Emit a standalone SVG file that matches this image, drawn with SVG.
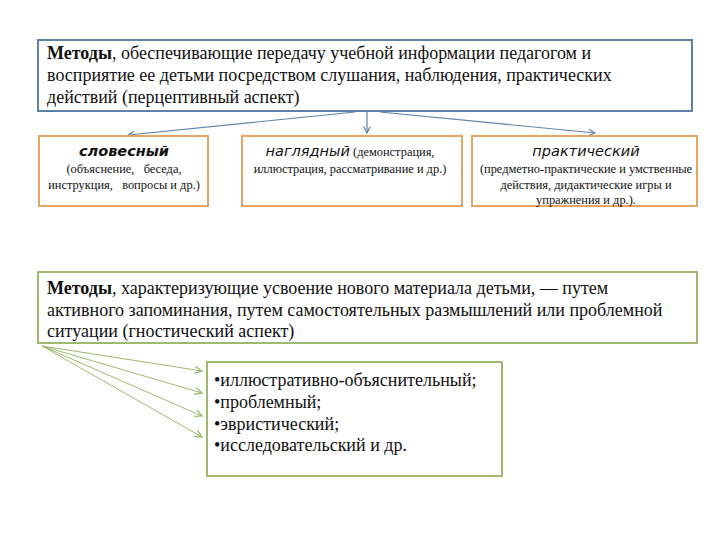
<svg xmlns="http://www.w3.org/2000/svg" width="720" height="540" viewBox="0 0 720 540">
<defs>
<style>
.bx{fill:#fff;stroke-width:2}
.blue{stroke:#5d82a8}
.or{stroke:#e6a565}
.gr{stroke:#a3b86f}
.t{font-family:"Liberation Serif",serif;font-size:18px;fill:#111}
.s{font-family:"Liberation Serif",serif;font-size:12.4px;fill:#111}
.h{font-family:"DejaVu Sans","Liberation Sans",sans-serif;font-size:14.5px;font-style:italic;fill:#111}
.cb{fill:none;stroke:#5d82a8;stroke-width:1.2}
.cg{fill:none;stroke:#a3b86f;stroke-width:1}
</style>
<marker id="ab" viewBox="0 0 10 10" refX="9" refY="5" markerWidth="8" markerHeight="8" orient="auto" markerUnits="userSpaceOnUse"><path d="M1,1 L9,5 L1,9" fill="none" stroke="#5d82a8" stroke-width="1.5"/></marker>
<marker id="ag" viewBox="0 0 10 10" refX="9" refY="5" markerWidth="9" markerHeight="9" orient="auto" markerUnits="userSpaceOnUse"><path d="M1,1 L9,5 L1,9" fill="none" stroke="#a3b86f" stroke-width="1.5"/></marker>
</defs>
<rect width="720" height="540" fill="#fff"/>
<g id="connectors">
<line class="cb" x1="355" y1="112" x2="128" y2="135" marker-end="url(#ab)"/>
<line class="cb" x1="367" y1="112" x2="367" y2="133" marker-end="url(#ab)"/>
<line class="cb" x1="380" y1="112" x2="595" y2="133" marker-end="url(#ab)"/>
<line class="cg" x1="42" y1="346" x2="202" y2="371" marker-end="url(#ag)"/>
<line class="cg" x1="42" y1="346" x2="202" y2="393" marker-end="url(#ag)"/>
<line class="cg" x1="42" y1="346" x2="202" y2="416" marker-end="url(#ag)"/>
<line class="cg" x1="42" y1="346" x2="202" y2="437" marker-end="url(#ag)"/>
</g>
<g id="top">
<rect class="bx blue" x="38" y="40" width="654" height="71"/>
<text class="t" x="47" y="59"><tspan font-weight="bold">Методы</tspan>, обеспечивающие передачу учебной информации педагогом и</text>
<text class="t" x="47" y="81">восприятие ее детьми посредством слушания, наблюдения, практических</text>
<text class="t" x="47" y="103">действий (перцептивный аспект)</text>
</g>
<g id="verbal">
<rect class="bx or" x="39" y="136" width="169" height="70"/>
<text class="h" x="124" y="156" text-anchor="middle" font-weight="bold" font-size="12px">словесный</text>
<text class="s" x="124" y="173" text-anchor="middle" xml:space="preserve">(объяснение,   беседа,</text>
<text class="s" x="124" y="189" text-anchor="middle" xml:space="preserve">инструкция,   вопросы и др.)</text>
</g>
<g id="visual">
<rect class="bx or" x="242" y="136" width="220" height="70"/>
<text x="350" y="156" text-anchor="middle"><tspan class="h">наглядный</tspan><tspan class="s"> (демонстрация,</tspan></text>
<text class="s" x="350" y="173" text-anchor="middle">иллюстрация, рассматривание и др.)</text>
</g>
<g id="practical">
<rect class="bx or" x="472" y="136" width="225" height="70"/>
<text class="h" x="586" y="156" text-anchor="middle">практический</text>
<text class="s" x="586" y="173" text-anchor="middle">(предметно-практические и умственные</text>
<text class="s" x="586" y="189" text-anchor="middle">действия, дидактические игры и</text>
<text class="s" x="586" y="204" text-anchor="middle">упражнения и др.).</text>
</g>
<g id="gnostic">
<rect class="bx gr" x="38" y="272" width="659" height="71"/>
<text class="t" x="47" y="294"><tspan font-weight="bold">Методы</tspan>, характеризующие усвоение нового материала детьми, — путем</text>
<text class="t" x="47" y="316">активного запоминания, путем самостоятельных размышлений или проблемной</text>
<text class="t" x="47" y="337">ситуации (гностический аспект)</text>
</g>
<g id="list">
<rect class="bx gr" x="207" y="362" width="295" height="114"/>
<text class="t" x="214" y="386">•иллюстративно-объяснительный;</text>
<text class="t" x="214" y="408">•проблемный;</text>
<text class="t" x="214" y="430">•эвристический;</text>
<text class="t" x="214" y="451">•исследовательский и др.</text>
</g>
</svg>
